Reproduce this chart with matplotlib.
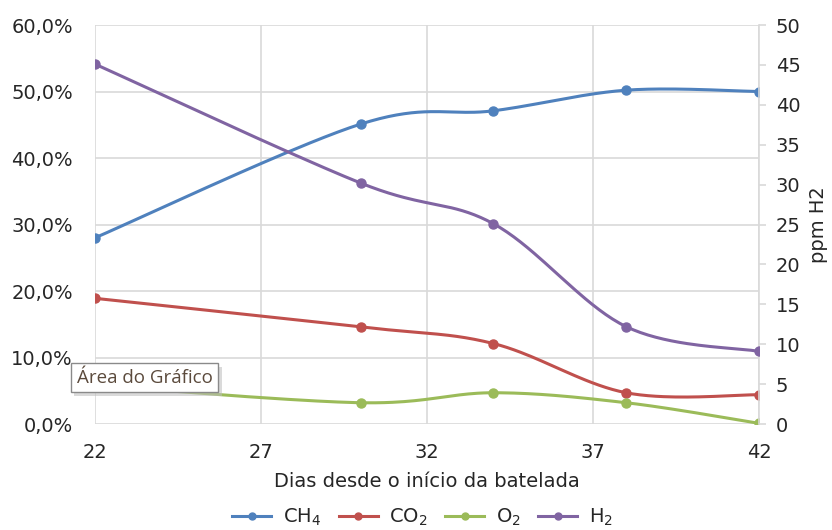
import matplotlib.pyplot as plt
import numpy as np

plt.rcParams['font.family'] = ['DejaVu Sans']

# dias de amostragem
dias = [22, 30, 34, 38, 42]

# composicao do biogas (%)
ch4 = [28.0, 45.1, 47.1, 50.2, 50.0]
co2 = [18.9, 14.6, 12.1, 4.7, 4.4]
o2 = [5.8, 3.2, 4.7, 3.2, 0.1]

# hidrogenio (ppm)
h2 = [45.1, 30.2, 25.1, 12.2, 9.1]

x_ticks = [22, 27, 32, 37, 42]


def suavizar(x, y, n=40):
    # curva suavizada tipo Excel (bezier com pontos de controle a 1/6)
    p = np.column_stack([x, y]).astype(float)
    p_ext = np.vstack([p[0], p, p[-1]])
    xs, ys = [], []
    t = np.linspace(0, 1, n)[:, None]
    for i in range(len(p) - 1):
        p0 = p_ext[i + 1]
        p3 = p_ext[i + 2]
        c1 = p0 + (p_ext[i + 2] - p_ext[i]) / 6
        c2 = p3 - (p_ext[i + 3] - p_ext[i + 1]) / 6
        b = ((1 - t) ** 3) * p0 + 3 * ((1 - t) ** 2) * t * c1 + 3 * (1 - t) * t ** 2 * c2 + t ** 3 * p3
        xs.extend(b[:, 0])
        ys.extend(b[:, 1])
    return np.array(xs), np.array(ys)


cores = {'CH4': '#4F81BD', 'CO2': '#C0504D', 'O2': '#9BBB59', 'H2': '#8064A2'}
txt = '#262626'

fig = plt.figure(figsize=(8.32, 5.30), dpi=100)
ax = fig.add_axes([0.1142, 0.2, 0.798, 0.7528])
ax2 = ax.twinx()

handles = []
for nome, serie, rot in [('CH4', ch4, 'CH$_4$'), ('CO2', co2, 'CO$_2$'), ('O2', o2, 'O$_2$')]:
    sx, sy = suavizar(dias, np.array(serie) / 100)
    ax.plot(sx, sy, color=cores[nome], lw=2.2, solid_capstyle='round', zorder=3)
    ax.plot(dias, np.array(serie) / 100, 'o', color=cores[nome], ms=6.5, zorder=4)
    h, = ax.plot([], [], '-o', color=cores[nome], lw=2.2, ms=5, label=rot)
    handles.append(h)

sx, sy = suavizar(dias, h2)
ax2.plot(sx, sy, color=cores['H2'], lw=2.2, solid_capstyle='round', zorder=3)
ax2.plot(dias, h2, 'o', color=cores['H2'], ms=6.5, zorder=4)
h, = ax2.plot([], [], '-o', color=cores['H2'], lw=2.2, ms=5, label='H$_2$')
handles.append(h)

ax.set_xlim(22, 42)
ax.set_ylim(0, 0.6)
ax2.set_ylim(0, 50)
ax.set_xticks(x_ticks)
ax.set_yticks(np.arange(0, 0.61, 0.1))
ax.set_yticklabels([f'{v:.1f}%'.replace('.', ',') for v in np.arange(0, 61, 10)])
ax2.set_yticks(np.arange(0, 51, 5))

ax.grid(True, color='#D9D9D9', lw=1.2)
ax.set_axisbelow(True)
for a in (ax, ax2):
    for s in a.spines.values():
        s.set_visible(False)
ax2.spines['right'].set_visible(True)
ax2.spines['right'].set_color('#D9D9D9')
ax2.spines['right'].set_linewidth(1.2)

ax.tick_params(axis='y', length=0, pad=16, labelsize=14, labelcolor=txt)
ax.tick_params(axis='x', length=0, pad=14, labelsize=14, labelcolor=txt)
ax2.tick_params(axis='y', length=5, width=1.2, color='#D9D9D9', pad=7, labelsize=14, labelcolor=txt)

ax.set_xlabel('Dias desde o início da batelada', fontsize=14, color=txt, labelpad=7)
ax2.set_ylabel('ppm H2', fontsize=14, color=txt, labelpad=6)

fig.legend(handles=handles, loc='center', bbox_to_anchor=(0.508, 0.023), ncol=4,
           frameon=False, fontsize=14, handlelength=2.0, columnspacing=0.9,
           handletextpad=0.6, labelcolor=txt)

# dica de ferramenta "Área do Gráfico" com sombra
dica = 'Área do Gráfico'
fonte_dica = dict(fontsize=13.5, family=['Open Sans', 'DejaVu Sans'], va='center', ha='left')
fig.text(0.0962, 0.2805, dica, color='#5b4a3c', alpha=0, zorder=9,
         bbox=dict(boxstyle='square,pad=0.3', fc='#bdbdbd', ec='none', alpha=0.55), **fonte_dica)
fig.text(0.0925, 0.2877, dica, color='#5b4a3c', zorder=10,
         bbox=dict(boxstyle='square,pad=0.3', fc='white', ec='#8a8a8a', lw=1), **fonte_dica)

fig.savefig('out.png', dpi=100)
